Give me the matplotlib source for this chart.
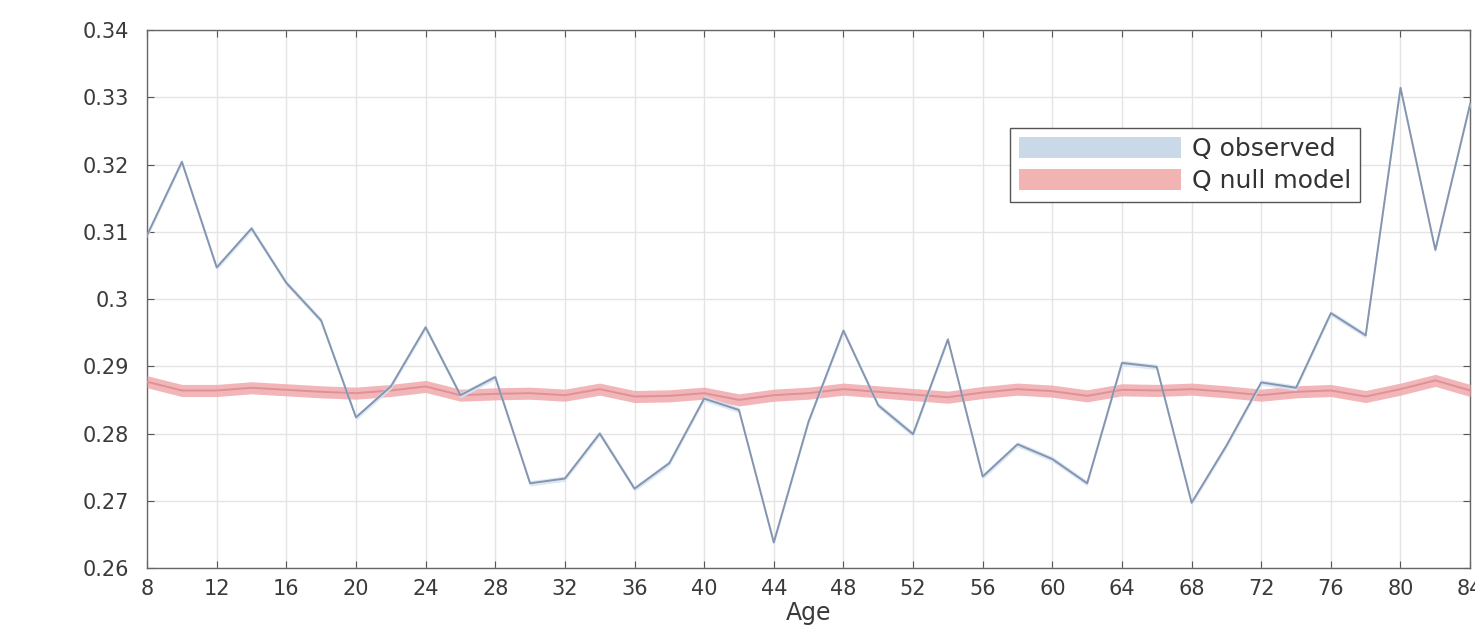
import matplotlib
matplotlib.use("Agg")
import matplotlib.pyplot as plt
import numpy as np
from matplotlib.patches import Patch

# ages sampled every 2 years
ages = list(range(8, 86, 2))

q_observed = [
    0.3095, 0.3204, 0.3047, 0.3105, 0.3024, 0.2968, 0.2824, 0.2870,
    0.2958, 0.2857, 0.2884, 0.2726, 0.2733, 0.2800, 0.2718, 0.2756,
    0.2852, 0.2835, 0.2638, 0.2818, 0.2953, 0.2842, 0.2799, 0.2940,
    0.2736, 0.2784, 0.2762, 0.2726, 0.2905, 0.2899, 0.2697, 0.2782,
    0.2876, 0.2868, 0.2979, 0.2946, 0.3314, 0.3073, 0.3290,
]

q_null = [
    0.2877, 0.2864, 0.2864, 0.2868, 0.2865, 0.2862, 0.2860, 0.2864,
    0.2870, 0.2857, 0.2859, 0.2860, 0.2857, 0.2866, 0.2855, 0.2856,
    0.2860, 0.2850, 0.2857, 0.2860, 0.2866, 0.2862, 0.2858, 0.2854,
    0.2861, 0.2866, 0.2863, 0.2856, 0.2865, 0.2864, 0.2866, 0.2862,
    0.2857, 0.2862, 0.2864, 0.2855, 0.2866, 0.2879, 0.2864,
]

observed_spread = 0.0004
null_spread = 0.0009

x_ticks = list(range(8, 88, 4))
y_ticks = [0.26, 0.27, 0.28, 0.29, 0.30, 0.31, 0.32, 0.33, 0.34]


def main() -> None:
    x = np.array(ages, dtype=float)
    obs = np.array(q_observed)
    null = np.array(q_null)

    fig = plt.figure(figsize=(14.75, 6.35), dpi=100)
    ax = fig.add_axes([0.0997, 0.1055, 0.8970, 0.8472])

    ax.fill_between(x, null - null_spread, null + null_spread,
                    color="#f0a9ac", alpha=0.85, linewidth=0, zorder=3)
    ax.plot(x, null, color="#de9198", linewidth=1.4, zorder=4)

    ax.fill_between(x, obs - observed_spread, obs + observed_spread,
                    color="#d6e5f3", alpha=0.9, linewidth=0, zorder=5)
    ax.plot(x, obs, color="#8595b0", linewidth=1.4, zorder=6)

    ax.set_xlim(8, 84)
    ax.set_ylim(0.26, 0.34)
    ax.set_xticks(x_ticks)
    ax.set_yticks(y_ticks)
    ax.set_yticklabels([f"{v:g}" for v in y_ticks])
    ax.grid(True, color="#e4e4e4", linewidth=1.0, zorder=0)
    ax.set_axisbelow(True)

    ax.tick_params(direction="in", length=5, width=0.8, colors="#555555",
                   labelcolor="#3a3a3a", labelsize=15, top=True, right=True)
    ax.tick_params(axis="y", pad=13)
    ax.tick_params(axis="x", pad=8)
    for spine in ax.spines.values():
        spine.set_color("#666666")
        spine.set_linewidth(1.0)

    ax.set_xlabel("Age", fontsize=17, color="#3a3a3a", labelpad=1)

    handles = [
        Patch(facecolor="#c9d9e8", edgecolor="none", label="Q observed"),
        Patch(facecolor="#f2b3b3", edgecolor="none", label="Q null model"),
    ]
    leg = ax.legend(handles=handles, loc="upper right",
                    bbox_to_anchor=(0.917, 0.818), fontsize=18,
                    handlelength=6.5, handleheight=0.95, handletextpad=0.45,
                    labelspacing=0.3, borderpad=0.35, borderaxespad=0.0,
                    fancybox=False, framealpha=1.0, edgecolor="#555555")
    leg.get_frame().set_linewidth(1.0)
    for t in leg.get_texts():
        t.set_color("#333333")

    fig.savefig("out.png", dpi=100, facecolor="white")
    plt.close(fig)


if __name__ == "__main__":
    main()
